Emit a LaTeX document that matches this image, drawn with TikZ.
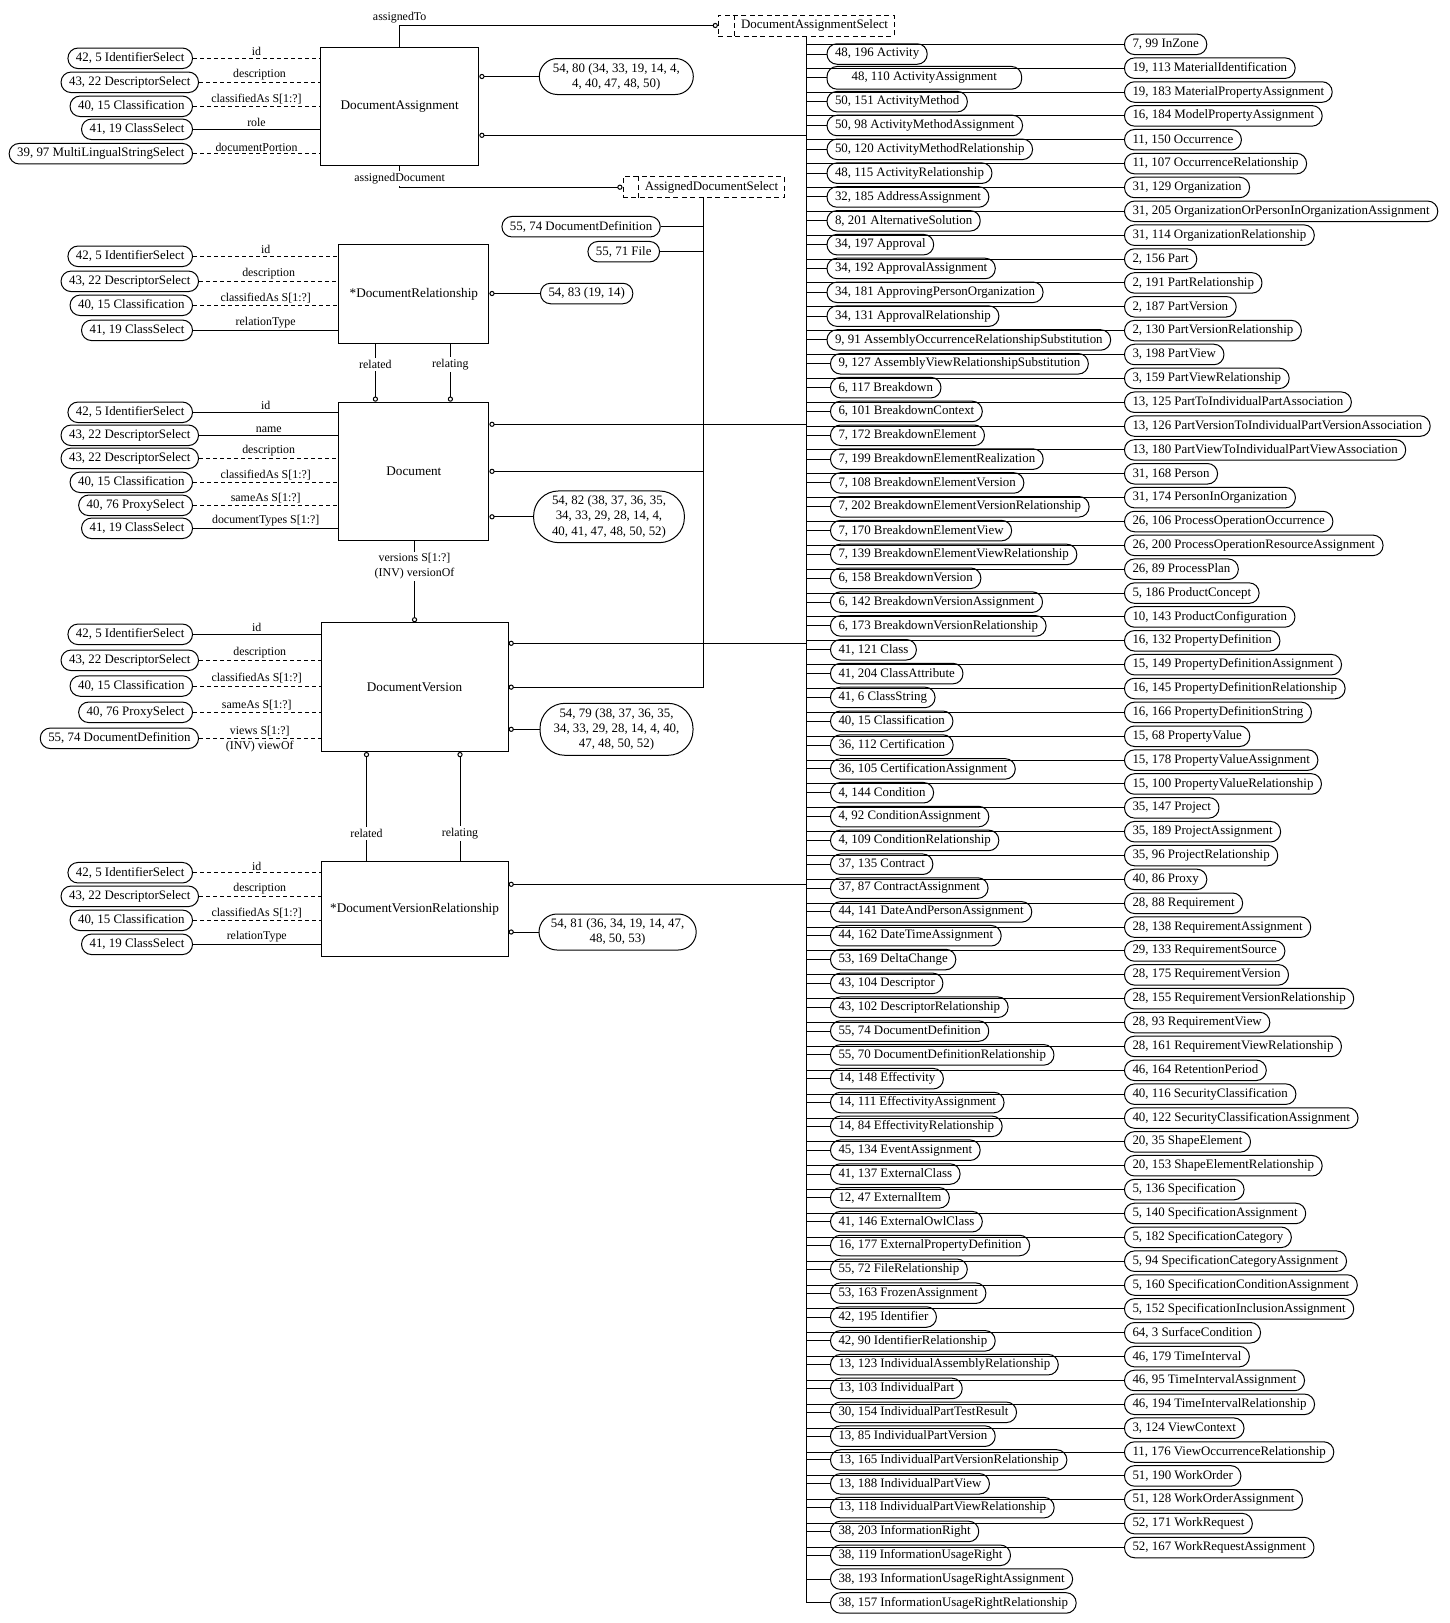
\documentclass[tikz,border=0pt]{standalone}
\usepackage{fontspec}
\setmainfont{Liberation Serif}
\usetikzlibrary{arrows.meta}
\tikzset{
  typ/.style={draw, rounded corners=5pt, inner xsep=4pt, inner ysep=0pt, minimum height=10.25pt, font=\fontsize{6.45}{7.6}\selectfont},
  big/.style={draw, align=center, inner sep=0pt, font=\fontsize{6.45}{7.6}\selectfont},
  ent/.style={draw, anchor=north west, inner sep=0pt, font=\fontsize{6.6}{8}\selectfont},
  sel/.style={draw, dash pattern=on 2.5pt off 1.7pt, inner sep=0pt, minimum height=10.5pt, font=\fontsize{6.45}{7.6}\selectfont},
  lab/.style={font=\fontsize{5.95}{7.2}\selectfont, inner sep=1pt},
  opt/.style={dash pattern=on 2pt off 1.5pt},
  ring/.style={{Circle[open,length=2.6pt,width=2.6pt]}-},
  ringend/.style={-{Circle[open,length=2.6pt,width=2.6pt]}}
}
\begin{document}
\begin{tikzpicture}[x=0.5pt, y=-0.5pt, line width=0.5pt]
\useasboundingbox (0,0) rectangle (1450,1623);

\node[ent, minimum width=79.15pt, minimum height=59pt] (da) at (320,47.3) {DocumentAssignment};
\node[ent, minimum width=75pt, minimum height=49.5pt] (dr) at (338.4,244.3) {*DocumentRelationship};
\node[ent, minimum width=75pt, minimum height=69.15pt] (doc) at (338.4,401.7) {Document};
\node[ent, minimum width=93.55pt, minimum height=64.35pt] (dv) at (320.5,622.3) {DocumentVersion};
\node[ent, minimum width=93.55pt, minimum height=47.35pt] (dvr) at (320.5,861.3) {*DocumentVersionRelationship};

\node[sel, minimum width=87.85pt] (das) at (806.2,25.5) {\hspace{8.4pt}DocumentAssignmentSelect};
\draw[sel] ([xshift=8.4pt]das.north west) -- ([xshift=8.4pt]das.south west);
\node[sel, minimum width=80.5pt] (ads) at (703.5,187.2) {\hspace{8pt}AssignedDocumentSelect};
\draw[sel] ([xshift=8pt]ads.north west) -- ([xshift=8pt]ads.south west);

\draw[ringend] (da.north) |- (das.west) node[pos=0.5, above, lab] {assignedTo};
\draw[ringend] (da.south) |- (ads.west) node[pos=0.5, above, lab, fill=white, yshift=0.3pt] {assignedDocument};

\foreach \e/\y/\s/\l/\t/\r [count=\k] in {
  da/58.3/opt/id/{42, 5 IdentifierSelect}/193,
  da/82.3/opt/description/{43, 22 DescriptorSelect}/199,
  da/106.3/opt/{classifiedAs S[1:?]}/{40, 15 Classification}/193,
  da/129.3/solid/role/{41, 19 ClassSelect}/193,
  da/153.7/opt/documentPortion/{39, 97 MultiLingualStringSelect}/193,
  dr/256.3/opt/id/{42, 5 IdentifierSelect}/193,
  dr/281.3/opt/description/{43, 22 DescriptorSelect}/199,
  dr/305.3/opt/{classifiedAs S[1:?]}/{40, 15 Classification}/193,
  dr/330.3/solid/relationType/{41, 19 ClassSelect}/193,
  doc/412.3/solid/id/{42, 5 IdentifierSelect}/193,
  doc/435.3/solid/name/{43, 22 DescriptorSelect}/199,
  doc/458.3/opt/description/{43, 22 DescriptorSelect}/199,
  doc/482.3/opt/{classifiedAs S[1:?]}/{40, 15 Classification}/193,
  doc/505.3/opt/{sameAs S[1:?]}/{40, 76 ProxySelect}/193,
  doc/528.3/solid/{documentTypes S[1:?]}/{41, 19 ClassSelect}/193,
  dv/634.3/solid/id/{42, 5 IdentifierSelect}/193,
  dv/660.3/opt/description/{43, 22 DescriptorSelect}/199,
  dv/686/opt/{classifiedAs S[1:?]}/{40, 15 Classification}/193,
  dv/712.3/opt/{sameAs S[1:?]}/{40, 76 ProxySelect}/193,
  dvr/872.7/opt/id/{42, 5 IdentifierSelect}/193,
  dvr/896.3/opt/description/{43, 22 DescriptorSelect}/199,
  dvr/920.3/opt/{classifiedAs S[1:?]}/{40, 15 Classification}/193,
  dvr/944.3/solid/relationType/{41, 19 ClassSelect}/193}
{
  \node[typ, anchor=east] (a\k) at (\r,\y) {\t};
  \draw[\s] (a\k.east) -- (\e.west |- a\k.east) node[midway, above, lab] {\l};
}
\node[typ, anchor=east] (dd) at (199,738.3) {55, 74 DocumentDefinition};
\draw[opt] (dd.east) -- (dv.west |- dd.east) node[midway, above, lab] {views S[1:?]} node[midway, below, lab] {(INV) viewOf};

\node[big, rounded corners=9pt, minimum width=77pt, minimum height=18pt] (k80) at (616.3,76.5) {54, 80 (34, 33, 19, 14, 4,\\4, 40, 47, 48, 50)};
\draw[ring] (da.east |- k80.west) -- (k80.west);
\node[typ, anchor=west] (k83) at (540,293.5) {54, 83 (19, 14)};
\draw[ring] (dr.east |- k83.west) -- (k83.west);
\node[big, rounded corners=12.5pt, minimum width=75.4pt, minimum height=25.85pt] (k82) at (609,516.8) {54, 82 (38, 37, 36, 35,\\34, 33, 29, 28, 14, 4,\\40, 41, 47, 48, 50, 52)};
\draw[ring] (doc.east |- k82.west) -- (k82.west);
\node[big, rounded corners=12.5pt, minimum width=76.5pt, minimum height=26pt] (k79) at (616.5,729.3) {54, 79 (38, 37, 36, 35,\\34, 33, 29, 28, 14, 4, 40,\\47, 48, 50, 52)};
\draw[ring] (dv.east |- k79.west) -- (k79.west);
\node[big, rounded corners=9pt, minimum width=78.6pt, minimum height=18pt] (k81) at (617.6,932) {54, 81 (36, 34, 19, 14, 47,\\48, 50, 53)};
\draw[ring] (dvr.east |- k81.west) -- (k81.west);

\draw[ring] ([xshift=18.5pt]doc.north west) -- ([xshift=18.5pt]dr.south west) node[pos=0.646, lab, fill=white] {related};
\draw[ring] ([xshift=56pt]doc.north west) -- ([xshift=56pt]dr.south west) node[pos=0.646, lab, fill=white] {relating};
\draw[ring] (dv.north) -- (dv.north |- doc.south) node[pos=0.69, lab, fill=white, align=center] {versions S[1:?]\\(INV) versionOf};
\draw[ring] ([xshift=23pt]dv.south west) -- ([xshift=23pt]dvr.north west) node[pos=0.746, lab, fill=white] {related};
\draw[ring] ([xshift=69.75pt]dv.south west) -- ([xshift=69.75pt]dvr.north west) node[pos=0.746, lab, fill=white] {relating};

\node[typ, anchor=east] (t74) at (660.7,226.7) {55, 74 DocumentDefinition};
\node[typ, anchor=east] (t71) at (660,251.7) {55, 71 File};
\draw (t74.east) -- (ads.south |- t74.east);
\draw (t71.east) -- (ads.south |- t71.east);
\draw[ring] (doc.east) -- (ads.south |- doc.east);
\draw[ring] (dv.east) -| (ads.south);

\coordinate (da1) at ([yshift=-44pt]da.north east);
\coordinate (doc1) at ([yshift=-11.3pt]doc.north east);
\coordinate (dv1) at ([yshift=-10.5pt]dv.north east);
\coordinate (dvr1) at ([yshift=-11.5pt]dvr.north east);
\foreach \c in {da1,doc1,dv1,dvr1}
  \draw[ring] (\c) -- (das.south |- \c);

\foreach \t [count=\i] in {{48, 196 Activity}, {48, 110 ActivityAssignment}, {50, 151 ActivityMethod},
  {50, 98 ActivityMethodAssignment}, {50, 120 ActivityMethodRelationship}, {48, 115 ActivityRelationship},
  {32, 185 AddressAssignment}, {8, 201 AlternativeSolution}, {34, 197 Approval}, {34, 192 ApprovalAssignment},
  {34, 181 ApprovingPersonOrganization}, {34, 131 ApprovalRelationship},
  {9, 91 AssemblyOccurrenceRelationshipSubstitution}, {9, 127 AssemblyViewRelationshipSubstitution},
  {6, 117 Breakdown}, {6, 101 BreakdownContext}, {7, 172 BreakdownElement}, {7, 199 BreakdownElementRealization},
  {7, 108 BreakdownElementVersion}, {7, 202 BreakdownElementVersionRelationship}, {7, 170 BreakdownElementView},
  {7, 139 BreakdownElementViewRelationship}, {6, 158 BreakdownVersion}, {6, 142 BreakdownVersionAssignment},
  {6, 173 BreakdownVersionRelationship}, {41, 121 Class}, {41, 204 ClassAttribute}, {41, 6 ClassString},
  {40, 15 Classification}, {36, 112 Certification}, {36, 105 CertificationAssignment}, {4, 144 Condition},
  {4, 92 ConditionAssignment}, {4, 109 ConditionRelationship}, {37, 135 Contract}, {37, 87 ContractAssignment},
  {44, 141 DateAndPersonAssignment}, {44, 162 DateTimeAssignment}, {53, 169 DeltaChange}, {43, 104 Descriptor},
  {43, 102 DescriptorRelationship}, {55, 74 DocumentDefinition}, {55, 70 DocumentDefinitionRelationship},
  {14, 148 Effectivity}, {14, 111 EffectivityAssignment}, {14, 84 EffectivityRelationship},
  {45, 134 EventAssignment}, {41, 137 ExternalClass}, {12, 47 ExternalItem}, {41, 146 ExternalOwlClass},
  {16, 177 ExternalPropertyDefinition}, {55, 72 FileRelationship}, {53, 163 FrozenAssignment},
  {42, 195 Identifier}, {42, 90 IdentifierRelationship}, {13, 123 IndividualAssemblyRelationship},
  {13, 103 IndividualPart}, {30, 154 IndividualPartTestResult}, {13, 85 IndividualPartVersion},
  {13, 165 IndividualPartVersionRelationship}, {13, 188 IndividualPartView}, {13, 118 IndividualPartViewRelationship},
  {38, 203 InformationRight}, {38, 119 InformationUsageRight}, {38, 193 InformationUsageRightAssignment},
  {38, 157 InformationUsageRightRelationship}}
{
  \pgfmathsetmacro\lx{\i<14 ? 826.5 : 830}
  \pgfmathsetmacro\mw{\i==2 ? 97.3 : 0}
  \pgfmathsetmacro\mh{\i==2 ? 11.35 : 10.25}
  \node[typ, anchor=west, minimum width=\mw pt, minimum height=\mh pt] (l\i) at (\lx,{54+(\i-1)*23.83}) {\t};
  \draw (das.south |- l\i.west) -- (l\i.west);
}
\draw (das.south) -- (das.south |- l66.west);

\foreach \t [count=\j] in {{7, 99 InZone}, {19, 113 MaterialIdentification}, {19, 183 MaterialPropertyAssignment},
  {16, 184 ModelPropertyAssignment}, {11, 150 Occurrence}, {11, 107 OccurrenceRelationship}, {31, 129 Organization},
  {31, 205 OrganizationOrPersonInOrganizationAssignment}, {31, 114 OrganizationRelationship}, {2, 156 Part},
  {2, 191 PartRelationship}, {2, 187 PartVersion}, {2, 130 PartVersionRelationship}, {3, 198 PartView},
  {3, 159 PartViewRelationship}, {13, 125 PartToIndividualPartAssociation},
  {13, 126 PartVersionToIndividualPartVersionAssociation}, {13, 180 PartViewToIndividualPartViewAssociation},
  {31, 168 Person}, {31, 174 PersonInOrganization}, {26, 106 ProcessOperationOccurrence},
  {26, 200 ProcessOperationResourceAssignment}, {26, 89 ProcessPlan}, {5, 186 ProductConcept},
  {10, 143 ProductConfiguration}, {16, 132 PropertyDefinition}, {15, 149 PropertyDefinitionAssignment},
  {16, 145 PropertyDefinitionRelationship}, {16, 166 PropertyDefinitionString}, {15, 68 PropertyValue},
  {15, 178 PropertyValueAssignment}, {15, 100 PropertyValueRelationship}, {35, 147 Project},
  {35, 189 ProjectAssignment}, {35, 96 ProjectRelationship}, {40, 86 Proxy}, {28, 88 Requirement},
  {28, 138 RequirementAssignment}, {29, 133 RequirementSource}, {28, 175 RequirementVersion},
  {28, 155 RequirementVersionRelationship}, {28, 93 RequirementView}, {28, 161 RequirementViewRelationship},
  {46, 164 RetentionPeriod}, {40, 116 SecurityClassification}, {40, 122 SecurityClassificationAssignment},
  {20, 35 ShapeElement}, {20, 153 ShapeElementRelationship}, {5, 136 Specification},
  {5, 140 SpecificationAssignment}, {5, 182 SpecificationCategory}, {5, 94 SpecificationCategoryAssignment},
  {5, 160 SpecificationConditionAssignment}, {5, 152 SpecificationInclusionAssignment},
  {64, 3 SurfaceCondition}, {46, 179 TimeInterval}, {46, 95 TimeIntervalAssignment},
  {46, 194 TimeIntervalRelationship}, {3, 124 ViewContext}, {11, 176 ViewOccurrenceRelationship},
  {51, 190 WorkOrder}, {51, 128 WorkOrderAssignment}, {52, 171 WorkRequest}, {52, 167 WorkRequestAssignment}}
{
  \node[typ, anchor=west] (r\j) at (1124,{44.3+(\j-1)*23.86}) {\t};
  \draw (das.south |- r\j.west) -- (r\j.west);
}
\end{tikzpicture}
\end{document}
